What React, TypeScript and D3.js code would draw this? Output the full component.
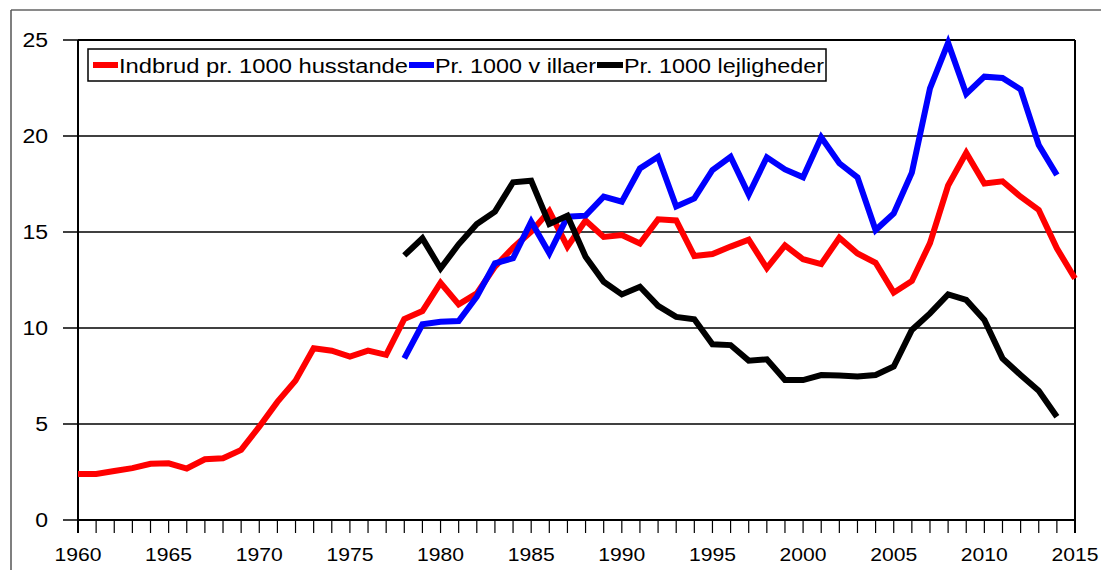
import React from "react";
import * as d3 from "d3";

const years: number[] = d3.range(1960, 2016);

const redValues: number[] = [
  2.4, 2.4, 2.55, 2.7, 2.93, 2.95, 2.68, 3.16, 3.22, 3.65,
  4.86, 6.15, 7.26, 8.94, 8.82, 8.51, 8.82, 8.6, 10.47, 10.88,
  12.35, 11.23, 11.8, 13.2, 14.18, 15.02, 16.09, 14.24, 15.6, 14.74,
  14.84, 14.4, 15.66, 15.6, 13.75, 13.85, 14.24, 14.6, 13.12, 14.3,
  13.58, 13.33, 14.7, 13.88, 13.4, 11.84, 12.45, 14.42, 17.42, 19.12,
  17.53, 17.64, 16.84, 16.15, 14.15, 12.58,
];

const blueYears: number[] = d3.range(1978, 2015);
const blueValues: number[] = [
  8.42, 10.19, 10.32, 10.36, 11.63, 13.37, 13.63, 15.54, 13.89, 15.8,
  15.85, 16.84, 16.58, 18.31, 18.92, 16.33, 16.75, 18.23, 18.92, 16.95,
  18.89, 18.26, 17.85, 19.93, 18.58, 17.85, 15.1, 15.97, 18.09, 22.48,
  24.85, 22.19, 23.09, 23.02, 22.43, 19.53, 17.97,
];

const blackYears: number[] = d3.range(1978, 2015);
const blackValues: number[] = [
  13.78, 14.67, 13.1, 14.36, 15.42, 16.06, 17.59, 17.67, 15.42, 15.85,
  13.71, 12.41, 11.75, 12.15, 11.15, 10.58, 10.45, 9.15, 9.11, 8.3,
  8.37, 7.29, 7.29, 7.55, 7.52, 7.47, 7.55, 7.99, 9.9, 10.76,
  11.75, 11.46, 10.42, 8.42, 7.55, 6.73, 5.38,
];

const yTicks: number[] = [0, 5, 10, 15, 20, 25];
const xLabelYears: number[] = [1960, 1965, 1970, 1975, 1980, 1985, 1990, 1995, 2000, 2005, 2010, 2015];

const legendLabels: string[] = ["Indbrud pr. 1000 husstande", "Pr. 1000 v illaer", "Pr. 1000 lejligheder"];
const seriesColors: string[] = ["#ff0000", "#0000ff", "#000000"];

const W = 1101;
const H = 570;
const L = 78, R = 1075, T = 40, B = 520;

export default function App() {
  const x = d3.scaleLinear().domain([1960, 2015]).range([L, R]);
  const y = d3.scaleLinear().domain([0, 25]).range([B, T]);
  const line = d3
    .line<[number, number]>()
    .x((d) => x(d[0]))
    .y((d) => y(d[1]));

  const series: [number, number][][] = [
    years.map((yr, i) => [yr, redValues[i]] as [number, number]),
    blueYears.map((yr, i) => [yr, blueValues[i]] as [number, number]),
    blackYears.map((yr, i) => [yr, blackValues[i]] as [number, number]),
  ];

  const font = "'Liberation Sans', Arial, sans-serif";

  const legendItems = [
    { lx1: 93, lx2: 118, tx: 119, tw: 289 },
    { lx1: 409, lx2: 434, tx: 435, tw: 161 },
    { lx1: 597, lx2: 623, tx: 624, tw: 200 },
  ];

  return (
    <svg
      width={W}
      height={H}
      style={{ position: "absolute", left: 0, top: 0, background: "#fff" }}
    >
      <line x1={11} y1={10} x2={W} y2={10} stroke="#8a8a8a" strokeWidth={2} />
      <line x1={11} y1={10} x2={11} y2={H} stroke="#555" strokeWidth={1.5} />

      {yTicks.map((t) => (
        <line key={"g" + t} x1={L - 15} x2={R} y1={y(t)} y2={y(t)} stroke="#000" strokeWidth={1.4} />
      ))}
      <line x1={L} x2={L} y1={T} y2={B + 13} stroke="#000" strokeWidth={2} />
      <line x1={R} x2={R} y1={T} y2={B + 13} stroke="#000" strokeWidth={2} />
      <line x1={L} x2={R} y1={T} y2={T} stroke="#000" strokeWidth={2} />
      <line x1={L} x2={R} y1={B} y2={B} stroke="#000" strokeWidth={2} />

      {years.map((yr) => (
        <line key={"t" + yr} x1={x(yr)} x2={x(yr)} y1={B} y2={B + 13} stroke="#000" strokeWidth={1.2} />
      ))}

      {yTicks.map((t) => (
        <text
          key={"yl" + t}
          x={48}
          y={y(t) + 7}
          textAnchor="end"
          fontFamily={font}
          fontSize={20}
          fill="#000"
          textLength={String(t).length * 12.8}
          lengthAdjust="spacingAndGlyphs"
        >
          {t}
        </text>
      ))}

      {xLabelYears.map((yr) => (
        <text
          key={"xl" + yr}
          x={x(yr)}
          y={561}
          textAnchor="middle"
          fontFamily={font}
          fontSize={19}
          fill="#000"
          textLength={47}
          lengthAdjust="spacingAndGlyphs"
        >
          {yr}
        </text>
      ))}

      {series.map((s, i) => (
        <path
          key={"s" + i}
          d={line(s) || ""}
          fill="none"
          stroke={seriesColors[i]}
          strokeWidth={6}
          strokeLinejoin="miter"
        />
      ))}

      <rect x={88} y={49} width={738} height={32} fill="#fff" stroke="#000" strokeWidth={1.5} />
      {legendItems.map((it, i) => (
        <g key={"lg" + i}>
          <line x1={it.lx1} x2={it.lx2} y1={65} y2={65} stroke={seriesColors[i]} strokeWidth={6} />
          <text
            x={it.tx}
            y={72.5}
            fontFamily={font}
            fontSize={20.5}
            fill="#000"
            textLength={it.tw}
            lengthAdjust="spacingAndGlyphs"
          >
            {legendLabels[i]}
          </text>
        </g>
      ))}
    </svg>
  );
}
